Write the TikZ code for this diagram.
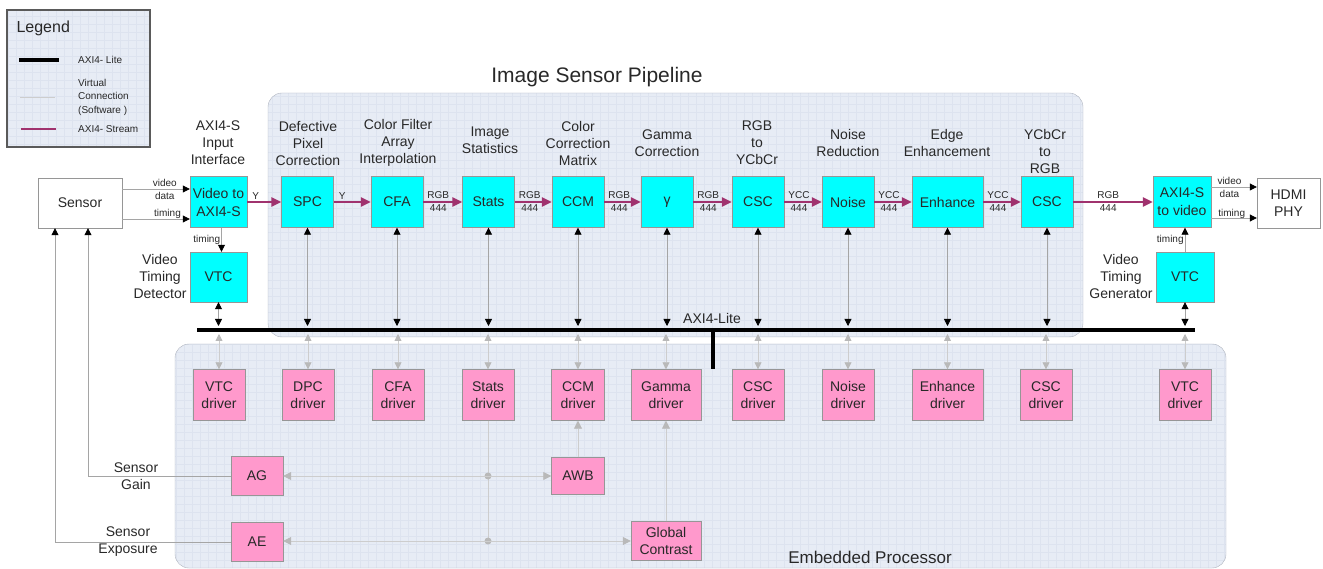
\documentclass[tikz,border=0pt]{standalone}
\usepackage{fontspec}
\setmainfont{Liberation Sans}
\usetikzlibrary{arrows.meta}

\definecolor{ipcyan}{RGB}{0,255,255}
\definecolor{drvpink}{RGB}{255,153,204}
\definecolor{streamc}{RGB}{160,50,110}
\definecolor{panel}{RGB}{231,236,245}
\definecolor{panelgrid}{RGB}{221,227,239}
\definecolor{panelline}{RGB}{175,180,190}
\definecolor{legendline}{RGB}{90,90,90}
\definecolor{edgec}{RGB}{150,150,150}
\definecolor{sigc}{RGB}{165,165,165}
\definecolor{virtc}{RGB}{205,205,205}
\definecolor{virtarr}{RGB}{185,185,185}
\definecolor{txtc}{RGB}{40,40,40}

\newcommand{\fs}[2]{\fontsize{#1pt}{#2pt}\selectfont}

\begin{document}
\begin{tikzpicture}[x=1pt, y=-1pt]
\tikzstyle{gridfill}=[path picture={\draw[panelgrid, line width=0.3pt, step=8pt]
    (path picture bounding box.south west) grid (path picture bounding box.north east);}]
\tikzstyle{panelbox}=[draw=panelline, fill=panel, rounded corners=14pt, gridfill]
\tikzstyle{ipblock}=[draw=edgec, fill=ipcyan, minimum width=52pt, minimum height=51pt,
                     inner sep=1pt, align=center, font=\fs{14}{18}, text=txtc]
\tikzstyle{drvblock}=[draw=edgec, fill=drvpink, minimum width=52pt, minimum height=51pt,
                      inner sep=1pt, align=center, font=\fs{14}{17}, text=txtc]
\tikzstyle{plainbox}=[draw=edgec, fill=white, minimum height=50pt, inner sep=1pt,
                      align=center, font=\fs{14}{17}, text=txtc]
\tikzstyle{title}=[align=center, font=\fs{14}{17}, text=txtc, inner sep=1pt]
\tikzstyle{small}=[align=center, font=\fs{10}{13}, text=txtc, inner sep=1pt]
\tikzstyle{legtext}=[anchor=west, align=left, font=\fs{10}{13.5}, text=txtc, inner sep=1pt]
\tikzstyle{stream}=[draw=streamc, line width=2.5pt, -{Triangle[length=10pt, width=9pt]}]
\tikzstyle{sig}=[draw=sigc, line width=0.8pt, -{Triangle[length=7pt, width=7pt, black]}]
\tikzstyle{ctrl}=[draw=sigc, line width=0.8pt,
                  {Triangle[length=7pt, width=7pt, black]}-{Triangle[length=7pt, width=7pt, black]}]
\tikzstyle{vlink}=[draw=virtc, line width=0.8pt,
                   {Triangle[length=7pt, width=7pt, virtarr]}-{Triangle[length=7pt, width=7pt, virtarr]}]
\tikzstyle{virt}=[draw=virtc, line width=0.8pt, -{Triangle[length=8pt, width=8pt, virtarr]}]

\useasboundingbox (0,0) rectangle (1323,569);

% panels
\draw[panelbox] (268,93) rectangle (1083,337);
\draw[panelbox] (175,344) rectangle (1226,568);
\draw[draw=legendline, line width=1.5pt, fill=panel, gridfill] (7,10) rectangle (150,147);

% legend
\node[anchor=west, font=\fs{16}{19}, text=txtc] (legend) at (13,28) {Legend};
\draw[line width=4pt] (19,60) -- (59,60);
\node[legtext] (leglite) at (77,60) {AXI4- Lite};
\draw[draw=virtc] (20,97) -- (55,97);
\node[legtext] (legvirt) at (77,97) {Virtual\\Connection\\(Software )};
\draw[draw=streamc, line width=2pt] (21,129) -- (56,129);
\node[legtext] (legstream) at (77,129) {AXI4- Stream};

\node[font=\fs{21}{25}, text=txtc] (isptitle) at (597,77) {Image Sensor Pipeline};
\node[font=\fs{17}{20}, text=txtc] (eptitle) at (870,557) {Embedded Processor};

% AXI4-Lite bus
\coordinate (busL) at (197,330);
\coordinate (busR) at (1195,330);
\coordinate (busT) at (0,326);
\coordinate (busB) at (0,334);
\coordinate (stub) at (713,369);
\draw[line width=4pt] (busL) -- (busR);
\draw[line width=3.5pt] (busL -| stub) -- (stub);
\node[font=\fs{14}{17}, text=txtc] (buslbl) at (712,318) {AXI4-Lite};

% pipeline
\node[plainbox, minimum width=84pt] (sensor) at (80,203) {Sensor};
\node[ipblock, minimum width=57pt] (vid2axi) at (218.5,202) {Video to\\AXI4-S};
\node[ipblock] (spc) at (307.5,202) {SPC};
\node[ipblock] (cfa) at (397,202) {CFA};
\node[ipblock] (stats) at (488.5,202) {Stats};
\node[ipblock] (ccm) at (578,202) {CCM};
\node[ipblock] (gam) at (667,202) {γ};
\node[ipblock] (csc) at (758,202) {CSC};
\node[ipblock] (noise) at (848,202) {Noise};
\node[ipblock, minimum width=71pt] (enh) at (947.5,202) {Enhance};
\node[ipblock] (csc2) at (1047,202) {CSC};
\node[ipblock, minimum width=58pt] (axi2vid) at (1182,202) {AXI4-S\\to video};
\node[plainbox, minimum width=63pt] (hdmi) at (1288.5,203) {HDMI\\PHY};
\node[ipblock, minimum width=57pt, minimum height=50pt] (vtcin) at (218.5,277) {VTC};
\node[ipblock, minimum width=58pt, minimum height=50pt] (vtcout) at (1185,277) {VTC};

\node[title] (lblin) at (218,143) {AXI4-S\\Input\\Interface};
\node[title] (lblspc) at (308,143) {Defective\\Pixel\\Correction};
\node[title] (lblcfa) at (398,143) {Color Filter\\Array\\Interpolation};
\node[title] (lblstats) at (490,140) {Image\\Statistics};
\node[title] (lblccm) at (578,143) {Color\\Correction\\Matrix};
\node[title] (lblgam) at (667,143) {Gamma\\Correction};
\node[title] (lblcsc) at (757,143) {RGB\\to\\YCbCr};
\node[title] (lblnoise) at (848,143) {Noise\\Reduction};
\node[title] (lblenh) at (947,143) {Edge\\Enhancement};
\node[title] (lblcsc2) at (1045,151) {YCbCr\\to\\RGB};
\node[title] (lblvtcin) at (160,276) {Video\\Timing\\Detector};
\node[title] (lblvtcout) at (1121,276) {Video\\Timing\\Generator};

% drivers
\node[drvblock] (vtcdrv) at (219,395) {VTC\\driver};
\node[drvblock] (dpcdrv) at (308,395) {DPC\\driver};
\node[drvblock] (cfadrv) at (398,395) {CFA\\driver};
\node[drvblock] (statsdrv) at (488,395) {Stats\\driver};
\node[drvblock, minimum width=53pt] (ccmdrv) at (578,395) {CCM\\driver};
\node[drvblock, minimum width=70pt] (gamdrv) at (666,395) {Gamma\\driver};
\node[drvblock] (cscdrv) at (758,395) {CSC\\driver};
\node[drvblock] (noisedrv) at (848,395) {Noise\\driver};
\node[drvblock, minimum width=71pt] (enhdrv) at (947.5,395) {Enhance\\driver};
\node[drvblock] (csc2drv) at (1046,395) {CSC\\driver};
\node[drvblock] (vtcoutdrv) at (1185,395) {VTC\\driver};

\node[drvblock, minimum height=39pt] (ag) at (257,476) {AG};
\node[drvblock, minimum height=39pt] (ae) at (257,542) {AE};
\node[drvblock, minimum width=53pt, minimum height=37pt] (awb) at (578,476) {AWB};
\node[drvblock, minimum width=70pt, minimum height=39pt] (gc) at (666,541) {Global\\Contrast};

% bus links
\foreach \blk/\drv in {vtcin/vtcdrv, spc/dpcdrv, cfa/cfadrv, stats/statsdrv, ccm/ccmdrv,
    gam/gamdrv, csc/cscdrv, noise/noisedrv, enh/enhdrv, csc2/csc2drv, vtcout/vtcoutdrv}{
  \draw[ctrl] (\blk) -- (\blk |- busT);
  \draw[vlink] (\drv |- busB) -- (\drv);
}

% streams
\foreach \a/\b in {vid2axi/spc, spc/cfa}
  \draw[stream] (\a) -- (\b) node[small, pos=0, anchor=south west, xshift=3pt] {Y};
\foreach \a/\b/\t in {cfa/stats/RGB, stats/ccm/RGB, ccm/gam/RGB, gam/csc/RGB,
    csc/noise/YCC, noise/enh/YCC, enh/csc2/YCC}
  \draw[stream] (\a) -- (\b) node[small, pos=0, anchor=west, xshift=2pt] {\t\\444};
\draw[stream] (csc2) -- (axi2vid) node[small, pos=0.44] {RGB\\444};

% video signals
\draw[sig] ([yshift=14pt]sensor.east) -- ([yshift=14pt]sensor.east -| vid2axi.west)
  node[small, pos=0.63] {video\\data};
\draw[sig] ([yshift=-16pt]sensor.east) -- ([yshift=-16pt]sensor.east -| vid2axi.west)
  node[small, pos=0.67, above=-1pt] {timing};
\draw[sig] ([xshift=3pt]vid2axi.south) -- ([xshift=3pt]vid2axi.south |- vtcin.north)
  node[small, midway, left] {timing};
\draw[sig] ([yshift=15pt]axi2vid.east) -- ([yshift=15pt]axi2vid.east -| hdmi.west)
  node[small, pos=0.4] {video\\data};
\draw[sig] ([yshift=-16pt]axi2vid.east) -- ([yshift=-16pt]axi2vid.east -| hdmi.west)
  node[small, pos=0.45, above=-2pt] {timing};
\draw[sig] (vtcout.north) -- (vtcout.north |- axi2vid.south)
  node[small, midway, left] {timing};

% sensor control
\draw[sig] (ag.west) -| ([xshift=8pt]sensor.south);
\draw[sig] (ae.west) -| ([xshift=-25pt]sensor.south);
\node[title] (gainlbl) at (136,476) {Sensor\\Gain};
\node[title] (explbl) at (128,542) {Sensor\\Exposure};

% software connections
\coordinate (tapA) at (488,476);
\coordinate (tapB) at (488,541);
\draw[draw=virtc, line width=0.8pt] (statsdrv) -- (tapB);
\fill[virtarr] (tapA) circle (3.5pt) (tapB) circle (3.5pt);
\draw[virt] (tapA) -- (ag);
\draw[virt] (tapA) -- (awb);
\draw[virt] (tapB) -- (tapB -| ae.east);
\draw[virt] (tapB) -- (gc);
\draw[virt] (awb) -- (ccmdrv);
\draw[virt] (gc) -- (gamdrv);
\end{tikzpicture}
\end{document}
